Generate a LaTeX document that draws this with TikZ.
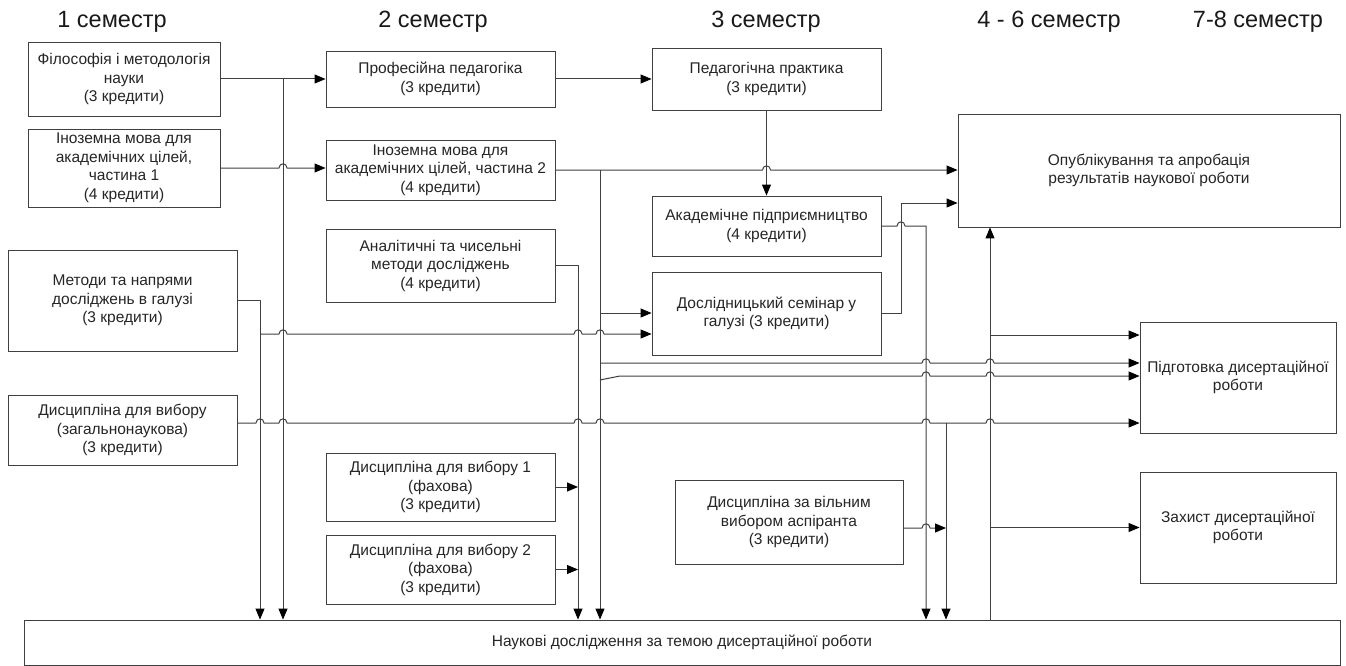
\documentclass[tikz,border=0pt]{standalone}
\usepackage{fontspec}
\setmainfont{Liberation Sans}
\usetikzlibrary{arrows.meta}
\newcommand\hopx[2]{-- ({#1-4},#2) .. controls ({#1-4},{#2-5.5}) and ({#1+4},{#2-5.5}) .. ({#1+4},#2)}
\begin{document}
\begin{tikzpicture}[x=1pt,y=-1pt,
  box/.style={draw=black!75, line width=0.9pt, align=center, inner sep=0pt,
    font=\fontsize{15.5}{18.5}\selectfont, text=black!85},
  ln/.style={draw=black!75, line width=1pt, line join=round},
  arr/.style={ln, -{Triangle[length=11pt,width=9pt,color=black]}},
  hdr/.style={font=\fontsize{23.5}{26}\selectfont, anchor=base, text=black!90}]
\useasboundingbox (0,0) rectangle (1346,666);
\fill[white] (0,0) rectangle (1346,666);

% headers
\node[hdr] (h1) at (112,28) {1 семестр};
\node[hdr] (h2) at (433,28) {2 семестр};
\node[hdr] (h3) at (766,28) {3 семестр};
\node[hdr] (h4) at (1049,28) {4 - 6 семестр};
\node[hdr] (h5) at (1258,28) {7-8 семестр};

% boxes
\node[box, minimum width=192pt, minimum height=74pt] (A) at (124,79) {Філософія і методологія\\науки\\(3 кредити)};
\node[box, minimum width=192pt, minimum height=78pt] (B) at (124,168) {Іноземна мова для\\академічних цілей,\\частина 1\\(4 кредити)};
\node[box, minimum width=229pt, minimum height=56pt] (C) at (440.5,79) {Професійна педагогіка\\(3 кредити)};
\node[box, minimum width=229pt, minimum height=60pt] (D) at (440.5,170) {Іноземна мова для\\академічних цілей, частина 2\\(4 кредити)};
\node[box, minimum width=229pt, minimum height=62pt] (E) at (766.5,79) {Педагогічна практика\\(3 кредити)};
\node[box, minimum width=382pt, minimum height=113pt] (F) at (1149,170.5) {Опублікування та апробація\\результатів наукової роботи};
\node[box, minimum width=229pt, minimum height=60pt] (G) at (766.5,226) {Академічне підприємництво\\(4 кредити)};
\node[box, minimum width=229pt, minimum height=73pt] (H) at (440.5,265.5) {Аналітичні та чисельні\\методи досліджень\\(4 кредити)};
\node[box, minimum width=229pt, minimum height=101pt] (I) at (122.5,300.5) {Методи та напрями\\досліджень в галузі\\(3 кредити)};
\node[box, minimum width=229pt, minimum height=83pt] (J) at (766.5,313.5) {Дослідницький семінар у\\галузі (3 кредити)};
\node[box, minimum width=196pt, minimum height=111pt] (K) at (1238,377.5) {Підготовка дисертаційної\\роботи};
\node[box, minimum width=229pt, minimum height=70pt] (L) at (122.5,430) {Дисципліна для вибору\\(загальнонаукова)\\(3 кредити)};
\node[box, minimum width=229pt, minimum height=68pt] (M) at (440.5,487) {Дисципліна для вибору 1\\(фахова)\\(3 кредити)};
\node[box, minimum width=229pt, minimum height=69pt] (N) at (440.5,569.5) {Дисципліна для вибору 2\\(фахова)\\(3 кредити)};
\node[box, minimum width=228pt, minimum height=84pt] (O) at (789,522) {Дисципліна за вільним\\вибором аспіранта\\(3 кредити)};
\node[box, minimum width=196pt, minimum height=111pt] (P) at (1238,527.5) {Захист дисертаційної\\роботи};
\node[box, minimum width=1316pt, minimum height=45pt] (Q) at (682,642.5) {Наукові дослідження за темою дисертаційної роботи};

% junction coordinates
\coordinate (jA) at (283,79);
\coordinate (jD) at (600,170);
\coordinate (jI) at (260,300.5);
\coordinate (jH) at (578,265.5);
\coordinate (jG) at (926,226);
\coordinate (jL) at (946,423);
\coordinate (jF) at (990,620);

% connectors
\draw[arr] (A.east) -- (C.west);
\draw[arr] (jA) -- (jA |- Q.north);
\draw[arr] (B.east) \hopx{283}{168} -- (D.west |- B.east);
\draw[arr] (C.east) -- (E.west);
\draw[arr] (E.south) -- (G.north);
\draw[arr] (D.east) \hopx{766.5}{170} -- (F.west |- D.east);
\draw[arr] (jD) -- (jD |- Q.north);
\draw[arr] (600,313) -- (J.west |- 600,313);
\draw[arr] (600,363) \hopx{926}{363} \hopx{990}{363} -- (K.west |- 600,363);
\draw[arr] (600,380) -- (620,376) \hopx{926}{376} \hopx{990}{376} -- (K.west |- 620,376);
\draw[arr] (I.east) -- (jI) -- (jI |- Q.north);
\draw[arr] (260,334) \hopx{283}{334} \hopx{578}{334} \hopx{600}{334} -- (J.west |- 260,334);
\draw[arr] (H.east) -- (jH) -- (jH |- Q.north);
\draw[arr] (L.east |- 237,423) \hopx{260}{423} \hopx{283}{423} \hopx{578}{423} \hopx{600}{423} \hopx{926}{423} -- (jL) \hopx{990}{423} -- (K.west |- jL);
\draw[arr] (jL) -- (jL |- Q.north);
\draw[arr] (G.east) \hopx{901}{226} -- (jG) -- (jG |- Q.north);
\draw[arr] (J.east) -- (901,313.5) -- (901,203) -- (F.west |- 901,203);
\draw[arr] (O.east |- 903,528) \hopx{926}{528} -- (jL |- 903,528);
\draw[arr] (M.east) -- (jH |- M.east);
\draw[arr] (N.east) -- (jH |- N.east);
\draw[arr] (jF) -- (jF |- F.south);
\draw[arr] (990,335) -- (K.west |- 990,335);
\draw[arr] (990,527.5) -- (P.west);
\end{tikzpicture}
\end{document}
